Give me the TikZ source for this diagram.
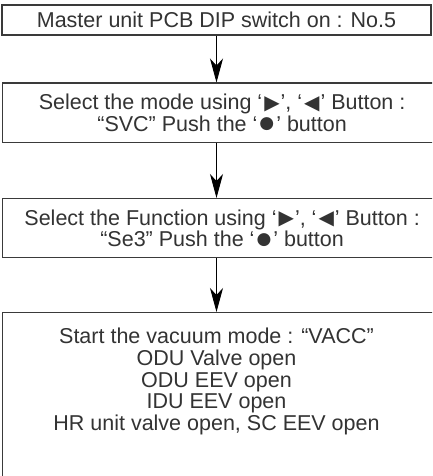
\documentclass[tikz,border=0pt]{standalone}
\usepackage{fontspec}
\setmainfont{Liberation Sans}
\newfontfamily\symfont{DejaVu Sans}
\usetikzlibrary{arrows.meta}
\definecolor{txt}{HTML}{333333}
\definecolor{edgec}{HTML}{3A3A3A}
\newcommand{\sym}[3]{{\symfont\fontsize{#1}{#1}\selectfont\raisebox{#2}{#3}}}
\newcommand{\rtri}{‘\kern2pt\sym{20}{0.5pt}{▶}\kern1pt’}
\newcommand{\ltri}{‘\kern2pt\sym{20}{0.5pt}{◀}\kern1pt’}
\newcommand{\dotb}{‘\kern2pt\sym{17}{2.5pt}{●}\kern2pt’}
\tikzset{
  box/.style={draw=edgec, line width=1.2pt, rectangle, inner sep=0pt,
    text=txt, align=center, font=\fontsize{21.5}{21.5}\selectfont},
  lbl/.style={text=txt, align=center, inner sep=0pt, font=\fontsize{21.5}{21.8}\selectfont},
  arr/.style={draw=black, line width=0.9pt, -{Stealth[length=24pt, width=13pt, inset=7pt]}}
}
\begin{document}
\begin{tikzpicture}[x=1pt, y=-1pt]
\useasboundingbox (0,0) rectangle (432,476);
\clip (0,0) rectangle (432,476);
\fill[white] (0,0) rectangle (432,476);
\node[box, minimum width=429pt, minimum height=30pt] (b1) at (216.5,20)
  {Master unit PCB DIP switch on : No.5};
\node[box, minimum width=439pt, minimum height=59.5pt, anchor=north west] (b2) at (2,82.5)
  {Select the mode using \rtri, \ltri\ Button :\\``SVC'' Push the \dotb\ button};
\node[box, minimum width=439pt, minimum height=59pt, anchor=north west] (b3) at (2,198)
  {Select the Function using \rtri, \ltri\ Button :\\``Se3'' Push the \dotb\ button};
\node[box, minimum width=439pt, minimum height=200pt, anchor=north west] (b4) at (2,312) {};
\node[lbl] (t4) at (216.5,381.5)
  {Start the vacuum mode : ``VACC''\\ODU Valve open\\ODU EEV open\\IDU EEV open\\HR unit valve open, SC EEV open};
\draw[arr] (b1.south) -- (b1.south |- b2.north);
\draw[arr] (b1.south |- b2.south) -- (b1.south |- b3.north);
\draw[arr] (b1.south |- b3.south) -- (b1.south |- b4.north);
\end{tikzpicture}
\end{document}
